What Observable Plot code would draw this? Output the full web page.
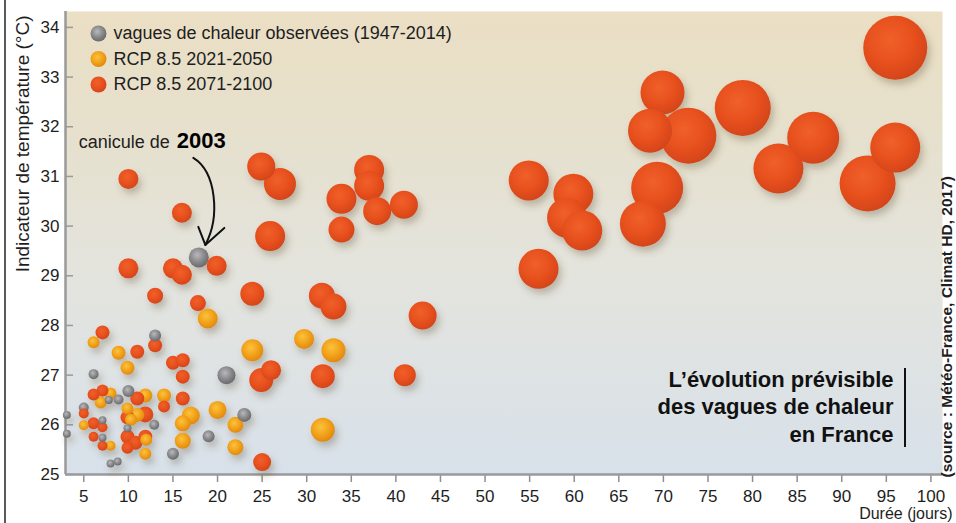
<!DOCTYPE html>
<html><head><meta charset="utf-8">
<script src="https://cdn.jsdelivr.net/npm/d3@7"></script>
<script src="https://cdn.jsdelivr.net/npm/@observablehq/plot@0.6"></script>
<style>
html,body{margin:0;padding:0;background:#fff;}
#chart svg{display:block;}
</style>
</head><body><div id="chart"></div>
<script>
// Séries (légende)
const series = ["vagues de chaleur observées (1947-2014)", "RCP 8.5 2021-2050", "RCP 8.5 2071-2100"];

// [durée (jours), indicateur de température (°C), sévérité (indice relatif)]
const observed = [
  [17.9, 29.37, 10.0], // canicule de 2003
  [13.0, 27.80, 3.6], [6.1, 27.02, 2.5], [21.0, 27.00, 8.1], [23.0, 26.20, 4.9],
  [10.0, 26.68, 3.6], [8.9, 26.51, 2.5], [7.8, 26.50, 1.6], [5.0, 26.35, 2.5],
  [12.9, 26.00, 2.5], [3.1, 26.20, 1.6], [3.1, 25.82, 1.6], [7.1, 26.09, 1.6],
  [7.1, 25.74, 1.6], [9.9, 25.93, 1.6], [15.0, 25.42, 3.6], [19.0, 25.77, 3.6],
  [8.0, 25.22, 1.6], [8.8, 25.26, 1.6]
];
const rcp2021 = [
  [6.1, 27.66, 3.6], [8.9, 27.45, 4.9], [9.9, 27.15, 4.9], [8.0, 26.63, 3.6],
  [6.9, 26.45, 3.6], [9.9, 26.33, 3.6], [11.0, 26.20, 4.9], [11.9, 26.59, 4.9],
  [14.0, 26.59, 4.9], [5.0, 25.99, 2.5], [8.0, 25.58, 2.5], [11.9, 25.42, 3.6],
  [12.0, 25.70, 3.6], [16.1, 25.68, 6.4], [16.1, 26.03, 6.4], [17.0, 26.19, 8.1],
  [18.9, 28.14, 10.0], [20.0, 26.30, 8.1], [22.0, 26.00, 6.4], [22.0, 25.55, 6.4],
  [23.9, 27.50, 12.1], [29.7, 27.73, 10.0], [33.0, 27.50, 14.4], [31.8, 25.90, 14.4],
  [10.3, 26.10, 3.6]
];
const rcp2071 = [
  [7.1, 27.86, 4.9], [11.0, 27.47, 4.9], [13.0, 27.60, 4.9], [15.0, 27.25, 4.9],
  [16.1, 27.30, 4.9], [16.1, 26.97, 4.9], [16.1, 26.53, 4.9], [14.0, 26.37, 3.6],
  [11.9, 26.21, 6.4], [9.9, 26.15, 4.9], [11.0, 26.53, 4.9], [7.1, 26.69, 3.6],
  [6.1, 26.61, 3.6], [5.0, 26.23, 2.5], [6.1, 26.03, 3.6], [7.1, 25.95, 2.5],
  [6.1, 25.76, 2.5], [7.1, 25.58, 2.5], [9.9, 25.76, 4.9], [9.9, 25.54, 3.6],
  [10.8, 25.64, 4.9], [11.9, 25.76, 4.9],
  [10.0, 30.95, 10.0], [16.0, 30.27, 10.0], [10.0, 29.15, 10.0], [15.0, 29.15, 10.0],
  [16.0, 29.02, 10.0], [19.9, 29.20, 10.0], [13.0, 28.60, 6.4], [17.8, 28.45, 6.4],
  [23.9, 28.64, 14.4], [31.7, 28.60, 16.9], [33.0, 28.38, 16.9], [43.0, 28.20, 19.6],
  [24.9, 26.90, 14.4], [26.0, 27.10, 10.0], [31.8, 26.98, 14.4], [41.0, 27.00, 12.1],
  [25.0, 25.25, 8.1], [24.9, 31.20, 19.6], [27.0, 30.85, 25.6], [25.9, 29.80, 22.5],
  [33.9, 30.55, 22.5], [37.0, 31.13, 22.5], [37.0, 30.81, 22.5], [37.9, 30.30, 19.6],
  [40.9, 30.43, 19.6], [33.9, 29.93, 16.9],
  [96.0, 33.59, 102.4], [69.9, 32.69, 48.4], [68.5, 31.92, 48.4], [72.8, 31.82, 78.4],
  [78.9, 32.38, 78.4], [86.8, 31.78, 67.6], [82.9, 31.16, 62.5], [96.0, 31.58, 62.5],
  [92.9, 30.86, 78.4], [69.3, 30.77, 67.6], [67.7, 30.05, 52.9], [54.9, 30.92, 40.0],
  [59.9, 30.65, 40.0], [59.2, 30.17, 40.0], [60.9, 29.91, 40.0], [56.0, 29.14, 40.0]
];

const xTicks = [5,10,15,20,25,30,35,40,45,50,55,60,65,70,75,80,85,90,95,100];
const yTicks = [25,26,27,28,29,30,31,32,33,34];
const xDomain = [2.95, 101.3];
const yDomain = [25, 34.32];

const yLabel = "Indicateur de température (°C)";
const xLabel = "Durée (jours)";
const sourceText = "(source : Météo-France, Climat HD, 2017)";
const titleText = "L’évolution prévisible\ndes vagues de chaleur\nen France";
const annotText = "canicule de ";
const annotYear = "2003";
const canicule2003 = observed[0];

const fills = ["url(#gObs)", "url(#gMid)", "url(#gEnd)"];

const points = [observed, rcp2021, rcp2071].flatMap((arr, i) =>
  arr.map(([duree, temp, sev]) => ({serie: series[i], duree, temp, sev})));

const FONT = "'Liberation Sans', Arial, Helvetica, sans-serif";

const plot = Plot.plot({
  width: 956, height: 523,
  marginLeft: 65, marginRight: 14, marginTop: 11, marginBottom: 49,
  style: {fontFamily: FONT, fontSize: "17px", color: "#1e1e1e", background: "#fff", overflow: "visible"},
  x: {domain: xDomain},
  y: {domain: yDomain},
  r: {type: "sqrt", domain: [0, 102.4], range: [0, 32]},
  color: {domain: series, range: fills},
  marks: [
    Plot.frame({fill: "url(#bg)", stroke: "none"}),
    Plot.axisX({ticks: xTicks, tickSize: 8, tickPadding: 7, stroke: "#8f8f8f", strokeWidth: 1.5, fontSize: 17, label: null, fill: "#1e1e1e"}),
    Plot.axisY({ticks: yTicks, tickSize: 0, tickPadding: 6, fontSize: 17, label: null, fill: "#1e1e1e"}),
    Plot.axisY({ticks: yTicks, tickSize: 7, tickFormat: () => "", dx: 8, stroke: "#9a9a9a", strokeWidth: 1.5, label: null}),
    Plot.ruleX([xDomain[0]], {stroke: "#9a9a9a", strokeWidth: 2.5}),
    Plot.ruleY([yDomain[0]], {stroke: "#9a9a9a", strokeWidth: 2.5}),
    Plot.dot(points, {x: "duree", y: "temp", r: "sev", fill: "serie", stroke: "none"}),
    // légende
    ...series.map((s, i) => Plot.dot([s], {frameAnchor: "top-left", dx: 33, dy: 22 + i * 25.5, r: 8, fill: fills[i]})),
    ...series.map((s, i) => Plot.text([s], {frameAnchor: "top-left", dx: 48, dy: 22 + i * 25.5, text: d => d, textAnchor: "start", lineAnchor: "middle", fontSize: 18, fill: "#1e1e1e"})),
    // annotation 2003
    Plot.text([canicule2003], {x: d => d[0], y: d => d[1], text: () => annotText, textAnchor: "end", lineAnchor: "middle", dx: -24, dy: -115, fontSize: 18, fill: "#1e1e1e"}),
    Plot.text([canicule2003], {x: d => d[0], y: d => d[1], text: () => annotYear, textAnchor: "start", lineAnchor: "middle", dx: -22, dy: -116, fontSize: 22, fontWeight: "bold", fill: "#000"}),
    // titres
    Plot.text([yLabel], {frameAnchor: "top-left", text: d => d, rotate: -90, textAnchor: "end", lineAnchor: "middle", dx: -43, dy: 4, fontSize: 19, fill: "#1e1e1e"}),
    Plot.text([sourceText], {frameAnchor: "bottom-right", text: d => d, rotate: -90, textAnchor: "start", lineAnchor: "middle", dx: 5, dy: 3, fontSize: 15.5, fontWeight: "bold", fill: "#1e1e1e"}),
    Plot.text([xLabel], {frameAnchor: "bottom-right", text: d => d, textAnchor: "end", lineAnchor: "middle", dx: 10, dy: 39, fontSize: 16, fill: "#1e1e1e"}),
    Plot.text([titleText], {frameAnchor: "bottom-right", text: d => d, textAnchor: "end", lineAnchor: "middle", lineHeight: 1.25, dx: -49, dy: -69, fontSize: 22, fontWeight: "bold", fill: "#111"})
  ]
});

document.getElementById("chart").appendChild(plot);

const svg = d3.select(plot);
const defs = svg.insert("defs", ":first-child");
const bg = defs.append("linearGradient").attr("id", "bg").attr("x1", 0).attr("y1", 0).attr("x2", 0).attr("y2", 1);
[["0%", "#ebdfc4"], ["25%", "#e6e0cc"], ["55%", "#e4e4dd"], ["100%", "#d8e1ea"]].forEach(([o, c]) =>
  bg.append("stop").attr("offset", o).attr("stop-color", c));
function ball(id, stops) {
  const g = defs.append("radialGradient").attr("id", id).attr("cx", "42%").attr("cy", "38%").attr("r", "62%");
  stops.forEach(([o, c]) => g.append("stop").attr("offset", o).attr("stop-color", c));
}
ball("gObs", [["0%", "#b9b9bb"], ["55%", "#8b8b8e"], ["100%", "#6a6a6d"]]);
ball("gMid", [["0%", "#fbc23e"], ["55%", "#f2a31b"], ["100%", "#e2890f"]]);
ball("gEnd", [["0%", "#f0602a"], ["60%", "#e7501e"], ["100%", "#d44519"]]);
const f = defs.append("filter").attr("id", "shadow").attr("x", "-20%").attr("y", "-20%").attr("width", "140%").attr("height", "140%");
f.append("feDropShadow").attr("dx", 3).attr("dy", 5).attr("stdDeviation", 3.5).attr("flood-color", "#4a3c28").attr("flood-opacity", 0.28);
const dotGroups = svg.selectAll('g[aria-label="dot"]').nodes();
if (dotGroups.length) d3.select(dotGroups[0]).attr("filter", "url(#shadow)");

// flèche vers la canicule de 2003 (positions issues des échelles)
const px = plot.scale("x").apply(canicule2003[0]);
const py = plot.scale("y").apply(canicule2003[1]);
const arrow = svg.append("g").attr("transform", `translate(${px},${py})`)
  .attr("fill", "none").attr("stroke", "#111").attr("stroke-width", 2).attr("stroke-linecap", "round").attr("stroke-linejoin", "round");
arrow.append("path").attr("d", "M-5,-99 C18,-85 22,-40 7,-12");
arrow.append("path").attr("d", "M0,-30 L7,-12 L26,-29");

// trait vertical à côté du titre
const W = 956, mr = 14, mb = 49, H = 523;
svg.append("line").attr("x1", W - mr - 37).attr("x2", W - mr - 37).attr("y1", H - mb - 106).attr("y2", H - mb - 27)
  .attr("stroke", "#111").attr("stroke-width", 2);
// bord gauche de la page
svg.append("line").attr("x1", 5).attr("x2", 5).attr("y1", 0).attr("y2", H).attr("stroke", "#222").attr("stroke-width", 1.5);
</script>
</body></html>
